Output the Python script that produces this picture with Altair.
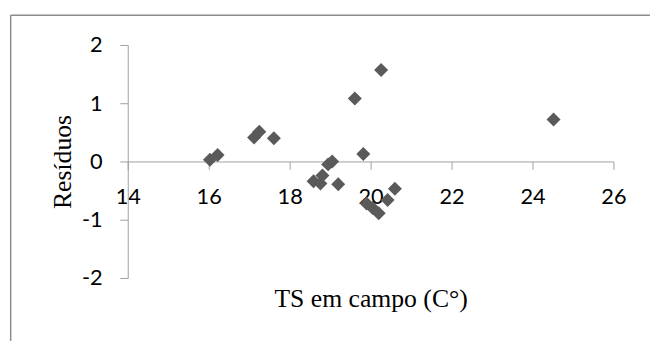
import altair as alt
import pandas as pd

# Data
ts_campo = [16.03, 16.22, 17.12, 17.25, 17.61, 18.59, 18.76, 18.81, 18.95, 19.05,
            19.20, 19.61, 19.82, 19.90, 20.05, 20.20, 20.26, 20.42, 20.60, 24.52]
residuos = [0.03, 0.11, 0.41, 0.51, 0.40, -0.34, -0.38, -0.24, -0.05, 0.00,
            -0.39, 1.08, 0.13, -0.72, -0.80, -0.89, 1.57, -0.66, -0.47, 0.72]
x_ticks = [14, 16, 18, 20, 22, 24, 26]
y_ticks = [-2, -1, 0, 1, 2]

df = pd.DataFrame({"ts": ts_campo, "res": residuos})

axis_color = "#a0a0a0"
label_font = "Lato"
title_font = "Liberation Serif"

points = alt.Chart(df).mark_point(
    shape="diamond", filled=True, size=200, color="#5a5a5a", opacity=1
).encode(
    x=alt.X(
        "ts:Q",
        scale=alt.Scale(domain=[14, 26], nice=False, zero=False),
        axis=alt.Axis(
            values=x_ticks, title="TS em campo (C°)", offset=-118, grid=False,
            domainColor=axis_color, tickColor=axis_color, tickSize=8,
            labelFont=label_font, labelFontSize=22, labelColor="black",
            labelPadding=18, labelFlush=False, labelOverlap=False,
            labelExpr="'' + datum.value",
            titleFont=title_font, titleFontSize=26, titleFontWeight="normal",
            titleColor="black", titleY=147, titleBaseline="alphabetic",
            zindex=0,
        ),
    ),
    y=alt.Y(
        "res:Q",
        scale=alt.Scale(domain=[-2, 2], nice=False, zero=False),
        axis=alt.Axis(
            values=y_ticks, title="Resíduos", grid=False,
            domainColor=axis_color, tickColor=axis_color, tickSize=8,
            labelFont=label_font, labelFontSize=22, labelColor="black",
            labelPadding=18, labelFlush=False, labelOverlap=False,
            labelExpr="'' + datum.value",
            titleFont=title_font, titleFontSize=26, titleFontWeight="normal",
            titleColor="black", titleAngle=270, titleX=-58, titleY=118,
            titleBaseline="alphabetic", titleAlign="center",
            zindex=0,
        ),
    ),
)

frame_df = pd.DataFrame({"k": [0]})
frame_left = alt.Chart(frame_df).mark_rule(color="#8c8c8c", strokeWidth=1.5).encode(
    x=alt.value(-118.6), y=alt.value(-30), y2=alt.value(300)
)
frame_top = alt.Chart(frame_df).mark_rule(color="#8c8c8c", strokeWidth=1.5).encode(
    x=alt.value(-118.6), x2=alt.value(540), y=alt.value(-30)
)

chart = alt.layer(frame_left, frame_top, points).properties(
    width=492,
    height=236,
    padding={"left": 121.3, "top": 35.3, "right": 37, "bottom": 62},
    autosize=alt.AutoSizeParams(type="none"),
).configure_view(stroke=None)

chart.save("out.html", embed_options={"renderer": "svg", "actions": False})
